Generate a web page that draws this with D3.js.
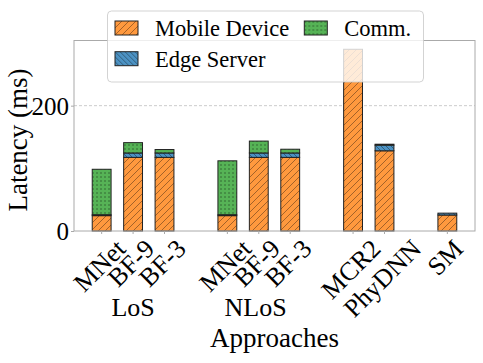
<!DOCTYPE html>
<html>
<head>
<meta charset="utf-8">
<script src="https://cdn.jsdelivr.net/npm/d3@7"></script>
<style>
  body{margin:0;background:#fff}
</style>
</head>
<body>
<svg id="chart" width="483" height="363"></svg>
<script>
// latency in ms
var categories = ["MNet","BF-9","BF-3","MNet","BF-9","BF-3","MCR2","PhyDNN","SM"]
var slots = [0,1,2,4,5,6,8,9,11]
var mobile = [24.5,117.5,117.5,24.5,117.5,117.5,290,128,25.5]
var edge = [1.5,7,7,1.5,7,7,0,9,3]
var comm = [72.5,16.5,5.5,86,19,6,0,1.5,0]
var groups = ["LoS","NLoS"]
var groupSlots = [1,4.9]
var yTicks = [0,200]
var seriesNames = ["Mobile Device","Edge Server","Comm."]

var serif = "'Liberation Serif', 'DejaVu Serif', serif"
var svg = d3.select('#chart').style('font-family',serif)
var x = d3.scaleLinear().domain([-0.88,11.88]).range([74,475])
var y = d3.scaleLinear().domain([0,304]).range([231,40.5])
var barW = x(0.6)-x(0)

var defs = svg.append('defs')
function hatch(id, fill, kind){
  var p = defs.append('pattern').attr('id',id).attr('patternUnits','userSpaceOnUse')
  if (kind=='dots'){
    p.attr('width',4).attr('height',4)
    p.append('rect').attr('width',4).attr('height',4).attr('fill',fill)
    p.append('circle').attr('cx',1).attr('cy',1).attr('r',0.75).attr('fill','rgba(0,0,0,0.5)')
  } else {
    var s = kind=='fwd' ? 7 : 5
    p.attr('width',s).attr('height',s)
    p.append('rect').attr('width',s).attr('height',s).attr('fill',fill)
    var d = kind=='fwd'
      ? 'M0,'+s+' L'+s+',0 M-1,1 L1,-1 M'+(s-1)+','+(s+1)+' L'+(s+1)+','+(s-1)
      : 'M0,0 L'+s+','+s+' M-1,'+(s-1)+' L1,'+(s+1)+' M'+(s-1)+',-1 L'+(s+1)+',1'
    p.append('path').attr('d',d).attr('stroke','rgba(0,0,0,0.45)').attr('stroke-width',0.8)
  }
}
hatch('hMobile','#ff993e','fwd')
hatch('hEdge','#4c92c3','back')
hatch('hComm','#56b356','dots')
var fills = ['url(#hMobile)','url(#hEdge)','url(#hComm)']

// grid
svg.append('g').selectAll('line').data(yTicks.filter(d=>d>0)).enter().append('line')
  .attr('x1',74).attr('x2',475).attr('y1',d=>y(d)).attr('y2',d=>y(d))
  .attr('stroke','#ccc').attr('stroke-dasharray','3,2').attr('stroke-width',1)

var stack = d3.stack().keys([0,1,2]).value((d,k)=>[d.m,d.e,d.c][k])
var rows = categories.map((c,i)=>({name:c,slot:slots[i],m:mobile[i],e:edge[i],c:comm[i]}))
var layers = stack(rows)

svg.append('g').selectAll('g').data(layers).enter().append('g')
  .attr('fill',(d,i)=>fills[i])
  .selectAll('rect').data(d=>d.filter(v=>v[1]-v[0]>0)).enter().append('rect')
  .attr('x',d=>x(d.data.slot)-barW/2)
  .attr('width',barW)
  .attr('y',d=>y(d[1]))
  .attr('height',d=>y(d[0])-y(d[1]))
  .attr('stroke','#222').attr('stroke-width',1)

svg.append('rect').attr('x',74).attr('y',40.5).attr('width',401).attr('height',190.5)
  .attr('fill','none').attr('stroke','#aaa').attr('stroke-width',1)

// y axis
var yAxis = d3.axisLeft(y).tickValues(yTicks).tickSize(3).tickPadding(2)
var ya = svg.append('g').attr('transform','translate(74,0)').call(yAxis)
  .attr('font-family',null).attr('font-size',null)
ya.select('.domain').remove()
ya.selectAll('line').attr('stroke','#aaa')
ya.selectAll('text').style('font-family',serif).style('font-size','25px').attr('dy','0.35em')

// x ticks + rotated labels
var xa = svg.append('g')
xa.selectAll('line').data(slots).enter().append('line')
  .attr('x1',d=>x(d)).attr('x2',d=>x(d)).attr('y1',231).attr('y2',234)
  .attr('stroke','#aaa')
xa.selectAll('text').data(categories).enter().append('text')
  .text(d=>d)
  .style('font-family',serif)
  .style('font-size','26px')
  .attr('text-anchor','middle')
  .attr('dominant-baseline','central')
  .each(function(d,i){
    var w = this.getComputedTextLength()
    var half = (w+18)*Math.SQRT1_2/2
    d3.select(this).attr('transform','translate('+(x(slots[i])-2)+','+(238+half)+') rotate(-45)')
  })

svg.append('g').selectAll('text').data(groups).enter().append('text')
  .attr('x',(d,i)=>x(groupSlots[i])).attr('y',315.5)
  .attr('text-anchor','middle').style('font-family',serif).style('font-size','26px').text(d=>d)

svg.append('text').attr('x',274.5).attr('y',347.3).attr('text-anchor','middle')
  .style('font-family',serif).style('font-size','27px').text('Approaches')
svg.append('text').attr('transform','translate(27,140) rotate(-90)').attr('text-anchor','middle')
  .style('font-family',serif).style('font-size','27px').text('Latency (ms)')

// legend (two columns, column-wise fill)
var lg = svg.append('g')
lg.append('rect').attr('x',107.5).attr('y',11).attr('width',316).attr('height',71).attr('rx',4)
  .attr('fill','rgba(255,255,255,0.8)').attr('stroke','rgba(200,200,200,0.8)')
var legPos = [[115,21],[115,51.7],[304.3,21]]
var item = lg.selectAll('g').data(seriesNames).enter().append('g')
  .attr('transform',(d,i)=>'translate('+legPos[i][0]+','+legPos[i][1]+')')
item.append('rect').attr('width',23).attr('height',14)
  .attr('fill',(d,i)=>fills[i]).attr('stroke','#222').attr('stroke-width',1)
item.append('text').attr('x',40).attr('y',15)
  .style('font-family',serif).style('font-size','22.5px').text(d=>d)
</script>
</body>
</html>
